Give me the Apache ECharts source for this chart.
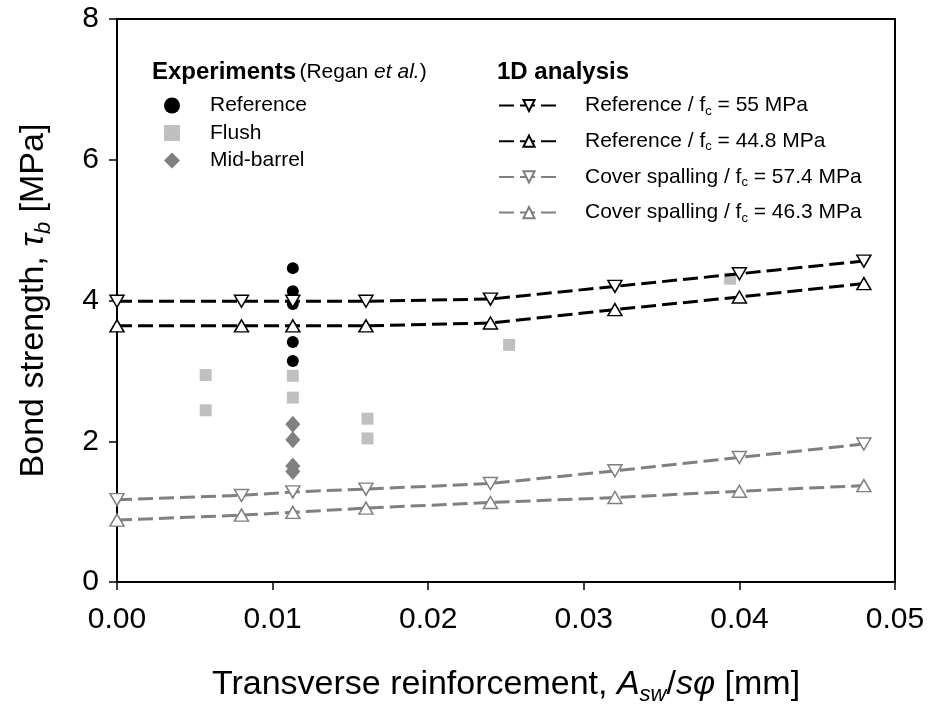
<!DOCTYPE html>
<html>
<head>
<meta charset="utf-8">
<script src="https://cdn.jsdelivr.net/npm/echarts@6/dist/echarts.min.js"></script>
<style>
  html, body { margin: 0; padding: 0; background: #fff; }
  #chart { width: 930px; height: 711px; }
</style>
</head>
<body>
<div id="chart"></div>
<script>
// 刻度
const xTicks = ['0.00', '0.01', '0.02', '0.03', '0.04', '0.05']
const yTicks = [0, 2, 4, 6, 8]

// 1D analysis (x 相同)
const analysisX = [0, 0.008, 0.0113, 0.016, 0.024, 0.032, 0.040, 0.048]
const ref55 = [3.99, 3.99, 3.99, 3.99, 4.02, 4.20, 4.38, 4.56]
const ref448 = [3.64, 3.64, 3.64, 3.64, 3.68, 3.87, 4.05, 4.24]
const cover574 = [1.17, 1.23, 1.28, 1.32, 1.40, 1.58, 1.77, 1.96]
const cover463 = [0.88, 0.95, 0.99, 1.05, 1.13, 1.20, 1.29, 1.37]

// Experiments (Regan et al.)
const refX = [0.0113, 0.0113, 0.0113, 0.0113, 0.0113]
const refY = [4.46, 4.13, 3.95, 3.41, 3.14]
const flushX = [0.0057, 0.0057, 0.0113, 0.0113, 0.0161, 0.0161, 0.0252, 0.0394]
const flushY = [2.94, 2.44, 2.93, 2.62, 2.32, 2.04, 3.37, 4.31]
const midX = [0.0113, 0.0113, 0.0113, 0.0113]
const midY = [2.24, 2.02, 1.65, 1.57]

const FONT = '"Liberation Sans", Arial, sans-serif'
const zip = (xs, ys) => xs.map((x, i) => [x, ys[i]])

const analysisNames = {
    'ref55': '{n|Reference / f}{s|c}{n| = 55 MPa}',
    'ref448': '{n|Reference / f}{s|c}{n| = 44.8 MPa}',
    'cov574': '{n|Cover spalling / f}{s|c}{n| = 57.4 MPa}',
    'cov463': '{n|Cover spalling / f}{s|c}{n| = 46.3 MPa}'
}

// 轴标题 rich 样式
const titleRich = {
    n: { fontFamily: FONT, fontSize: 34, color: '#000', lineHeight: 42 },
    i: { fontFamily: FONT, fontSize: 34, fontStyle: 'italic', color: '#000', lineHeight: 42 },
    s: { fontFamily: FONT, fontSize: 22, fontStyle: 'italic', color: '#000', lineHeight: 26, verticalAlign: 'bottom' }
}

function lineSeries(name, ys, color, down) {
    return {
        type: 'line',
        name: name,
        data: zip(analysisX, ys),
        symbol: 'triangle',
        symbolSize: [14, 12],
        symbolRotate: down ? 180 : 0,
        showAllSymbol: true,
        lineStyle: { color: color, width: 3, type: [15, 6] },
        itemStyle: { color: '#fff', borderColor: color, borderWidth: 1.5 },
        z: 3,
        animation: false
    }
}

const chart = echarts.init(document.getElementById('chart'))
chart.setOption({
    backgroundColor: '#fff',
    animation: false,
    grid: { left: 117, right: 35, top: 19, bottom: 129, show: true, borderColor: '#000', borderWidth: 2 },
    xAxis: {
        type: 'value',
        min: 0,
        max: 0.05,
        interval: 0.01,
        splitLine: { show: false },
        axisLine: { lineStyle: { color: '#000', width: 2 } },
        axisTick: { length: 8, lineStyle: { color: '#000', width: 1.5 } },
        axisLabel: {
            color: '#000', fontFamily: FONT, fontSize: 30, margin: 23,
            formatter: v => xTicks[Math.round(v * 100)]
        },
        name: '{n|Transverse reinforcement, }{i|A}{s|sw}{n|/}{i|s\u03C6}{n| [mm]}',
        nameLocation: 'middle',
        nameGap: 82,
        nameTextStyle: { rich: titleRich }
    },
    yAxis: {
        type: 'value',
        min: 0,
        max: 8,
        interval: 2,
        splitLine: { show: false },
        axisLine: { lineStyle: { color: '#000', width: 2 } },
        axisTick: { length: 8, lineStyle: { color: '#000', width: 1.5 } },
        axisLabel: {
            color: '#000', fontFamily: FONT, fontSize: 30, margin: 18,
            formatter: v => (yTicks.indexOf(v) >= 0 ? String(v) : '')
        },
        name: '{n|Bond strength, }{i|\u03C4}{s|b}{n| [MPa]}',
        nameLocation: 'middle',
        nameRotate: 90,
        nameGap: 62,
        nameTextStyle: { rich: titleRich }
    },
    legend: [
        {
            data: ['Reference', 'Flush', 'Mid-barrel'],
            orient: 'vertical',
            left: 164,
            top: 95,
            padding: 0,
            itemWidth: 16,
            itemHeight: 16,
            itemGap: 6.5,
            selectedMode: false,
            textStyle: { fontFamily: FONT, fontSize: 21, color: '#000', padding: [0, 0, 0, 25] }
        },
        {
            data: ['ref55', 'ref448', 'cov574', 'cov463'],
            orient: 'vertical',
            left: 498,
            top: 95,
            padding: 0,
            itemWidth: 60,
            itemHeight: 14,
            itemGap: 13.2,
            selectedMode: false,
            formatter: name => analysisNames[name],
            textStyle: {
                padding: [0, 0, 0, 21],
                rich: {
                    n: { fontFamily: FONT, fontSize: 21, color: '#000', lineHeight: 24 },
                    s: { fontFamily: FONT, fontSize: 13, color: '#000', lineHeight: 15, verticalAlign: 'bottom' }
                }
            }
        }
    ],
    graphic: [
        {
            type: 'text',
            left: 152,
            top: 60,
            style: {
                text: '{b|Experiments} {p|(Regan }{it|et al.}{p|)}',
                rich: {
                    b: { fontFamily: FONT, fontSize: 24, fontWeight: 'bold', fill: '#000' },
                    p: { fontFamily: FONT, fontSize: 21, fill: '#000' },
                    it: { fontFamily: FONT, fontSize: 21, fontStyle: 'italic', fill: '#000' }
                }
            }
        },
        {
            type: 'text',
            left: 497,
            top: 60,
            style: { text: '1D analysis', fontFamily: FONT, fontSize: 24, fontWeight: 'bold', fill: '#000' }
        }
    ],
    series: [
        {
            type: 'scatter', name: 'Reference', data: zip(refX, refY),
            symbol: 'circle', symbolSize: 12, itemStyle: { color: '#000', opacity: 1 }, z: 2
        },
        {
            type: 'scatter', name: 'Flush', data: zip(flushX, flushY),
            symbol: 'rect', symbolSize: 12, itemStyle: { color: '#c0c0c0', opacity: 1 }, z: 2
        },
        {
            type: 'scatter', name: 'Mid-barrel', data: zip(midX, midY),
            symbol: 'diamond', symbolSize: [15, 17], itemStyle: { color: '#808080', opacity: 1 }, z: 2
        },
        lineSeries('ref55', ref55, '#000', true),
        lineSeries('ref448', ref448, '#000', false),
        lineSeries('cov574', cover574, '#808080', true),
        lineSeries('cov463', cover463, '#808080', false)
    ]
})
</script>
</body>
</html>
